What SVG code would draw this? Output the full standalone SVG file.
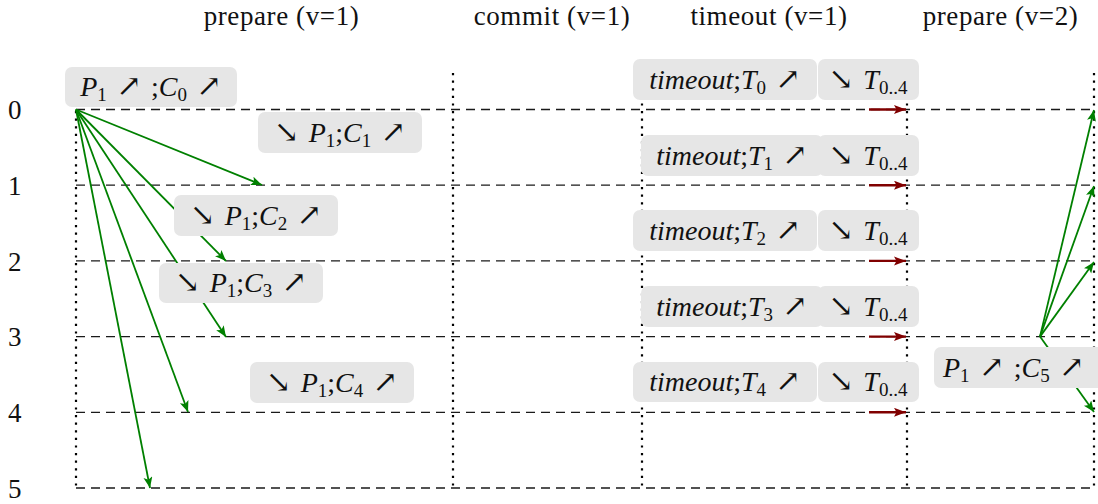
<svg xmlns="http://www.w3.org/2000/svg" width="1098" height="504" viewBox="0 0 1098 504">
<style>
text{font-family:'Liberation Serif','Times New Roman','DejaVu Serif',serif;font-size:28px;fill:#111}
.title{text-anchor:middle;font-size:27px;letter-spacing:0.6px}
.lab{text-anchor:start;font-size:27px}
.m{text-anchor:middle}
.i{font-style:italic}
.s{font-size:19px}
.ar{font-family:'DejaVu Serif','DejaVu Sans',serif;font-size:30px}
.box{fill:#e6e6e6;stroke:none}
.h{stroke:#1a1a1a;stroke-width:1.3;stroke-dasharray:9 6;fill:none}
.v{stroke:#000;stroke-width:2.2;stroke-dasharray:2.2 5.4;fill:none}
.g{stroke:#008000;stroke-width:1.8;fill:none;marker-end:url(#ag)}
.r{stroke:#800000;stroke-width:2.4;fill:none;marker-end:url(#ar)}
</style>
<defs>
<marker id="ag" markerUnits="userSpaceOnUse" markerWidth="12" markerHeight="10" refX="11" refY="4.5" orient="auto" viewBox="0 0 12 10"><path d="M0,0 L11,4.5 L0,9 L2.5,4.5 z" fill="#008000"/></marker>
<marker id="ar" markerUnits="userSpaceOnUse" markerWidth="13" markerHeight="10" refX="12" refY="4.5" orient="auto" viewBox="0 0 13 10"><path d="M0,0 L12,4.5 L0,9 L2.5,4.5 z" fill="#800000"/></marker>
</defs>

<g id="titles">
<text class="title" x="281.5" y="25">prepare (v=1)</text>
<text class="title" x="552" y="25">commit (v=1)</text>
<text class="title" x="769" y="25">timeout (v=1)</text>
<text class="title" x="1000.5" y="25">prepare (v=2)</text>
</g>

<g id="row-labels">
<text class="lab" x="8" y="119">0</text>
<text class="lab" x="8" y="195">1</text>
<text class="lab" x="8" y="271">2</text>
<text class="lab" x="8" y="346">3</text>
<text class="lab" x="8" y="422">4</text>
<text class="lab" x="8" y="498">5</text>
</g>

<g id="grid">
<line class="h" x1="76" y1="109.5" x2="1094" y2="109.5"/>
<line class="h" x1="76" y1="185.2" x2="1094" y2="185.2"/>
<line class="h" x1="76" y1="260.9" x2="1094" y2="260.9"/>
<line class="h" x1="76" y1="336.6" x2="1094" y2="336.6"/>
<line class="h" x1="76" y1="412.3" x2="1094" y2="412.3"/>
<line class="h" x1="76" y1="488" x2="1094" y2="488"/>
<line class="v" x1="76" y1="73" x2="76" y2="488"/>
<line class="v" x1="453" y1="73" x2="453" y2="488"/>
<line class="v" x1="642" y1="73" x2="642" y2="488"/>
<line class="v" x1="907" y1="73" x2="907" y2="488"/>
<line class="v" x1="1094" y1="73" x2="1094" y2="488"/>
</g>

<g id="connectors">
<line class="g" x1="76" y1="109.5" x2="262" y2="185"/>
<line class="g" x1="76" y1="109.5" x2="226" y2="261"/>
<line class="g" x1="76" y1="109.5" x2="226" y2="337"/>
<line class="g" x1="76" y1="109.5" x2="188" y2="412"/>
<line class="g" x1="76" y1="109.5" x2="150" y2="488"/>
<line class="r" x1="869" y1="109.5" x2="906" y2="109.5"/>
<line class="r" x1="869" y1="185.2" x2="906" y2="185.2"/>
<line class="r" x1="869" y1="260.9" x2="906" y2="260.9"/>
<line class="r" x1="869" y1="336.6" x2="906" y2="336.6"/>
<line class="r" x1="869" y1="412.3" x2="906" y2="412.3"/>
<line class="g" x1="1040" y1="336.6" x2="1094" y2="110"/>
<line class="g" x1="1040" y1="336.6" x2="1094" y2="186"/>
<line class="g" x1="1040" y1="336.6" x2="1094" y2="262"/>
<line class="g" x1="1040" y1="336.6" x2="1094" y2="412"/>
</g>

<g id="n0">
<rect class="box" x="65" y="67" width="172" height="40" rx="7"/>
<text class="m" x="151" y="96"><tspan class="i">P</tspan><tspan class="s" dy="5">1</tspan><tspan class="ar" dy="-5"> ↗ </tspan>;<tspan class="i">C</tspan><tspan class="s" dy="5">0</tspan><tspan class="ar" dy="-5"> ↗</tspan></text>
</g>
<g id="n1">
<rect class="box" x="258" y="112" width="164" height="41" rx="7"/>
<text class="m" x="340" y="142"><tspan class="ar">↘ </tspan><tspan class="i">P</tspan><tspan class="s" dy="5">1</tspan><tspan dy="-5">;</tspan><tspan class="i">C</tspan><tspan class="s" dy="5">1</tspan><tspan class="ar" dy="-5"> ↗</tspan></text>
</g>
<g id="n2">
<rect class="box" x="174" y="195" width="164" height="41" rx="7"/>
<text class="m" x="256" y="225"><tspan class="ar">↘ </tspan><tspan class="i">P</tspan><tspan class="s" dy="5">1</tspan><tspan dy="-5">;</tspan><tspan class="i">C</tspan><tspan class="s" dy="5">2</tspan><tspan class="ar" dy="-5"> ↗</tspan></text>
</g>
<g id="n3">
<rect class="box" x="159" y="263" width="164" height="40" rx="7"/>
<text class="m" x="241" y="292"><tspan class="ar">↘ </tspan><tspan class="i">P</tspan><tspan class="s" dy="5">1</tspan><tspan dy="-5">;</tspan><tspan class="i">C</tspan><tspan class="s" dy="5">3</tspan><tspan class="ar" dy="-5"> ↗</tspan></text>
</g>
<g id="n4">
<rect class="box" x="250" y="362" width="164" height="41" rx="7"/>
<text class="m" x="332" y="392"><tspan class="ar">↘ </tspan><tspan class="i">P</tspan><tspan class="s" dy="5">1</tspan><tspan dy="-5">;</tspan><tspan class="i">C</tspan><tspan class="s" dy="5">4</tspan><tspan class="ar" dy="-5"> ↗</tspan></text>
</g>

<g id="t0">
<rect class="box" x="633" y="59" width="184" height="41" rx="7"/>
<text class="m" x="725" y="89"><tspan class="i">timeout</tspan>;<tspan class="i">T</tspan><tspan class="s" dy="5">0</tspan><tspan class="ar" dy="-5"> ↗</tspan></text>
</g>
<g id="t0b">
<rect class="box" x="818" y="59" width="101" height="41" rx="7"/>
<text class="m" x="868" y="89"><tspan class="ar">↘ </tspan><tspan class="i">T</tspan><tspan class="s" dy="5">0..4</tspan></text>
</g>
<g id="t1">
<rect class="box" x="641" y="135" width="182" height="41" rx="7"/>
<text class="m" x="732" y="165"><tspan class="i">timeout</tspan>;<tspan class="i">T</tspan><tspan class="s" dy="5">1</tspan><tspan class="ar" dy="-5"> ↗</tspan></text>
</g>
<g id="t1b">
<rect class="box" x="818" y="135" width="101" height="41" rx="7"/>
<text class="m" x="868" y="165"><tspan class="ar">↘ </tspan><tspan class="i">T</tspan><tspan class="s" dy="5">0..4</tspan></text>
</g>
<g id="t2">
<rect class="box" x="633" y="210" width="184" height="41" rx="7"/>
<text class="m" x="725" y="240"><tspan class="i">timeout</tspan>;<tspan class="i">T</tspan><tspan class="s" dy="5">2</tspan><tspan class="ar" dy="-5"> ↗</tspan></text>
</g>
<g id="t2b">
<rect class="box" x="818" y="210" width="101" height="41" rx="7"/>
<text class="m" x="868" y="240"><tspan class="ar">↘ </tspan><tspan class="i">T</tspan><tspan class="s" dy="5">0..4</tspan></text>
</g>
<g id="t3">
<rect class="box" x="641" y="286" width="182" height="41" rx="7"/>
<text class="m" x="732" y="316"><tspan class="i">timeout</tspan>;<tspan class="i">T</tspan><tspan class="s" dy="5">3</tspan><tspan class="ar" dy="-5"> ↗</tspan></text>
</g>
<g id="t3b">
<rect class="box" x="818" y="286" width="101" height="41" rx="7"/>
<text class="m" x="868" y="316"><tspan class="ar">↘ </tspan><tspan class="i">T</tspan><tspan class="s" dy="5">0..4</tspan></text>
</g>
<g id="t4">
<rect class="box" x="633" y="362" width="184" height="40" rx="7"/>
<text class="m" x="725" y="391"><tspan class="i">timeout</tspan>;<tspan class="i">T</tspan><tspan class="s" dy="5">4</tspan><tspan class="ar" dy="-5"> ↗</tspan></text>
</g>
<g id="t4b">
<rect class="box" x="818" y="362" width="101" height="40" rx="7"/>
<text class="m" x="868" y="391"><tspan class="ar">↘ </tspan><tspan class="i">T</tspan><tspan class="s" dy="5">0..4</tspan></text>
</g>

<g id="n5">
<rect class="box" x="934" y="347" width="172" height="41" rx="7"/>
<text x="943" y="377"><tspan class="i">P</tspan><tspan class="s" dy="5">1</tspan><tspan class="ar" dy="-5"> ↗ </tspan>;<tspan class="i">C</tspan><tspan class="s" dy="5">5</tspan><tspan class="ar" dy="-5"> ↗</tspan></text>
</g>
</svg>
